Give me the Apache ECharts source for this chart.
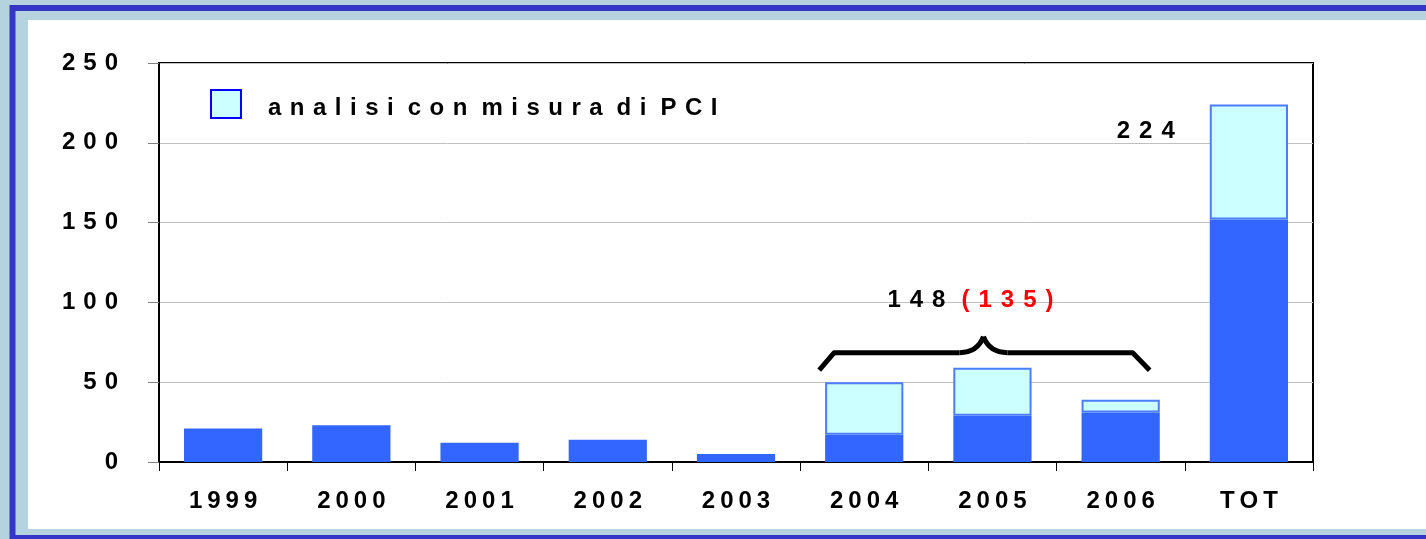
<!DOCTYPE html>
<html>
<head>
<meta charset="utf-8">
<script src="https://cdn.jsdelivr.net/npm/echarts@6/dist/echarts.min.js"></script>
<style>
html,body{margin:0;padding:0;background:#b4d3de;}
#c{width:1426px;height:539px;}
</style>
</head>
<body>
<div id="c"></div>
<script>
// ---- data ----
const categories = ['1999','2000','2001','2002','2003','2004','2005','2006','TOT'];
const baseValues = [21, 23, 12, 14, 5, 17, 29, 31, 152];
const pciValues  = [null, null, null, null, null, 33, 30, 8, 72];
const pciName = 'analisi con misura di PCI';
const yTicks = [0, 50, 100, 150, 200, 250];
const totalLabel = '224';
const groupLabel = '148';
const groupLabelRed = '(135)';

const FONT = '"Liberation Sans", Arial, sans-serif';
const FS = 24;
// letter-spaced text via rich-text spacer blocks
function sp(s, gapKey, wordKey, style){
  const words = s.split(' ');
  return words.map(w => w.split('').map(c => '{' + style + '|' + c + '}').join('{' + gapKey + '| }'))
              .join('{' + wordKey + '| }');
}
function baseTxt(extra){ return Object.assign({fontFamily: FONT, fontSize: FS, fontWeight: 'bold', color: '#000'}, extra || {}); }
function gap(w){ return {width: w, fontSize: FS, fontFamily: FONT}; }

const chart = echarts.init(document.getElementById('c'), null, {renderer:'canvas'});

const option = {
  animation: false,
  backgroundColor: 'transparent',
  grid: {left: 159, right: 113, top: 63, bottom: 77, show: true, borderColor: '#000', borderWidth: 2, backgroundColor: 'transparent'},
  legend: {
    left: 205, top: 84,
    itemWidth: 30, itemHeight: 28,
    data: [{name: pciName, icon: 'rect', itemStyle: {color: '#ccffff', borderColor: '#0000ff', borderWidth: 2}}],
    formatter: n => sp(n, 'g', 'w', 't'),
    textStyle: {fontFamily: FONT, fontSize: FS, fontWeight: 'bold', color: '#000', padding: [8,0,0,22],
      rich: {t: baseTxt(), g: gap(8.5), w: gap(14)}},
    selectedMode: false
  },
  xAxis: {
    type: 'category', data: categories,
    axisLine: {lineStyle: {color: '#000', width: 2}},
    axisTick: {show: true, length: 9, lineStyle: {color: '#000', width: 1}},
    axisLabel: {interval: 0, hideOverlap: false, margin: 27, fontFamily: FONT, fontSize: FS, fontWeight: 'bold', color: '#000',
      formatter: v => sp(v, 'g', 'w', 't'),
      rich: {t: baseTxt(), g: gap(5), w: gap(5)}},
    splitLine: {show: false}
  },
  yAxis: {
    type: 'value', min: yTicks[0], max: yTicks[yTicks.length-1], interval: yTicks[1]-yTicks[0],
    axisLine: {show: true, lineStyle: {color: '#000', width: 2}},
    axisTick: {show: true, length: 11, lineStyle: {color: '#808080', width: 1}},
    axisLabel: {margin: 41, fontFamily: FONT, fontSize: FS, fontWeight: 'bold', color: '#000',
      formatter: v => sp(String(v), 'g', 'w', 't'),
      rich: {t: baseTxt(), g: gap(8), w: gap(8)}},
    splitLine: {show: true, lineStyle: {color: '#c0c0c0', width: 1}}
  },
  series: [
    {name: 'base', type: 'bar', stack: 'a', data: baseValues, barWidth: '61%',
     itemStyle: {color: '#3366ff'}},
    {name: pciName, type: 'bar', stack: 'a', data: pciValues, barWidth: '61%',
     itemStyle: {color: '#ccffff', borderColor: '#4d7dff', borderWidth: 2}}
  ]
};
chart.setOption(option);

function px(cat, val){ return chart.convertToPixel({gridIndex:0}, [cat, val]); }

// bracket over 2004-2006
const pL = px('2004', 57.5), pC = px('2005', 68.5), pR = px('2006', 57.5), pk = px('2005', 78.5);
const x0 = pL[0] - 45, x1 = pR[0] + 29, xc = pC[0] - 9, yh = pC[1], ye = pL[1], yp = pk[1];
const braceStyle = {stroke: '#000', lineWidth: 5, fill: null, lineJoin: 'round', lineCap: 'butt'};

const tp = px('2005', 101.5);
const tt = px('TOT', 207);
const catW = chart.convertToPixel({xAxisIndex:0}, '2005') - chart.convertToPixel({xAxisIndex:0}, '2004');
const totHalf = catW * 0.61 / 2;

const richT = {t: baseTxt({fill: '#000'}), r: baseTxt({fill: '#ff0000', color: '#ff0000'}), g: gap(9), w: gap(16)};
function spStyle(s, st){ return s.split('').map(c => '{' + st + '|' + c + '}').join('{g| }'); }

chart.setOption({
  graphic: [
    {type: 'rect', z: -10, silent: true, shape: {x: 12.5, y: 8, width: 1500, height: 530},
     style: {fill: '#b4d3de', stroke: '#3535c8', lineWidth: 6}},
    {type: 'rect', z: -9, silent: true, shape: {x: 28, y: 20, width: 1420, height: 509},
     style: {fill: '#ffffff'}},
    {type: 'polyline', z: 10, silent: true, shape: {points: [[x0, ye], [x0 + 15, yh], [xc - 24, yh]]}, style: braceStyle},
    {type: 'bezierCurve', z: 10, silent: true, shape: {x1: xc - 24, y1: yh, cpx1: xc - 6, cpy1: yh, x2: xc, y2: yp}, style: braceStyle},
    {type: 'bezierCurve', z: 10, silent: true, shape: {x1: xc, y1: yp, cpx1: xc + 6, cpy1: yh, x2: xc + 24, y2: yh}, style: braceStyle},
    {type: 'polyline', z: 10, silent: true, shape: {points: [[xc + 24, yh], [x1 - 17, yh], [x1, ye]]}, style: braceStyle},
    {type: 'text', z: 10, silent: true, x: tp[0] - 22, y: tp[1],
     style: {text: spStyle(groupLabel, 't') + '{w| }' + spStyle(groupLabelRed, 'r'),
       align: 'center', verticalAlign: 'middle', rich: richT}},
    {type: 'text', z: 10, silent: true, x: tt[0] - totHalf - 35, y: tt[1],
     style: {text: spStyle(totalLabel, 't'), align: 'right', verticalAlign: 'middle', rich: richT}}
  ]
});
</script>
</body>
</html>
